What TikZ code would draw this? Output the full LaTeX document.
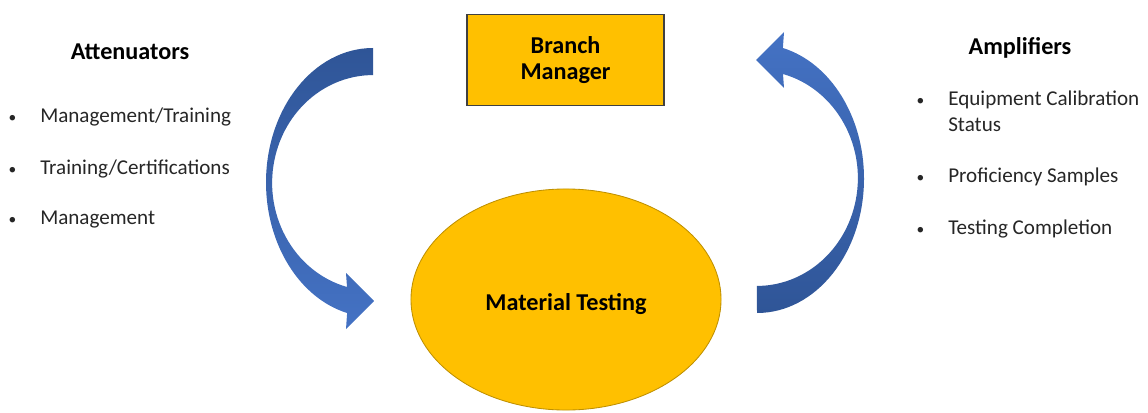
\documentclass[tikz,border=0pt]{standalone}
\usepackage{fontspec}
\setmainfont{Carlito}
\usetikzlibrary{shapes,arrows,positioning}
\definecolor{gold}{HTML}{FFC000}
\definecolor{goldline}{HTML}{BF9000}
\definecolor{boxline}{HTML}{404040}
\definecolor{arrowdark}{HTML}{2F5597}
\definecolor{arrowlight}{HTML}{4472C4}
\definecolor{arrowmid}{HTML}{3A64AE}
\newcommand{\bul}{\llap{{\fontsize{11}{11}\selectfont\textbullet}\hspace{17pt}}}
\tikzset{heading/.style={font=\fontsize{17.2}{20}\selectfont\bfseries,anchor=base,inner sep=0pt}}
\tikzset{point/.style={font=\fontsize{15}{18.5}\selectfont,anchor=base west,inner sep=0pt,align=left,text=black!85}}
\tikzset{manager/.style={rectangle,draw=boxline,line width=0.8pt,fill=gold,minimum width=4.925cm,minimum height=2.275cm,align=center,font=\fontsize{17.2}{19}\selectfont\bfseries}}
\tikzset{testing/.style={ellipse,draw=goldline,line width=0.6pt,fill=gold,minimum width=7.75cm,minimum height=5.525cm,inner sep=0pt,text height=15pt,text depth=0pt,font=\fontsize{17.2}{20}\selectfont\bfseries}}

\begin{document}
\begin{tikzpicture}[x=0.025cm,y=-0.025cm]
    \useasboundingbox (0,0) rectangle (1148,413);

    \node[manager] (bm) at (565.5,60) {Branch\\Manager};
    \node[testing] (mt) at (566,299.5) {Material Testing};

    % left side
    \node[heading] (att) at (130,60) {Attenuators};
    \node[point] (a1) at (40,123) {\bul Management/Training};
    \node[point] (a2) at (40,174) {\bul Training/Certifications};
    \node[point] (a3) at (40,224) {\bul Management};

    % right side (base of a two-line node sits on its last line)
    \node[heading] (amp) at (1020,55) {Amplifiers};
    \node[point] (b1) at (948,132) {\bul Equipment Calibration\\Status};
    \node[point] (b2) at (948,183) {\bul Proficiency Samples};
    \node[point] (b3) at (948,234) {\bul Testing Completion};

    % bent block arrows
    \shade[top color=arrowdark,bottom color=arrowlight,middle color=arrowmid]
        (373,48) arc[start angle=270,end angle=104,x radius=107,y radius=134.5]
        -- (346,329) -- (374,301) -- (346,273) -- (347,287)
        arc[start angle=105,end angle=270,x radius=101,y radius=107.8] -- cycle;
    \shade[top color=arrowlight,bottom color=arrowdark,middle color=arrowmid]
        (757,313) arc[start angle=90,end angle=-76,x radius=107,y radius=134.5]
        -- (784,32) -- (756,60) -- (784,88) -- (783,74)
        arc[start angle=-75,end angle=90,x radius=101,y radius=107.8] -- cycle;
\end{tikzpicture}
\end{document}
